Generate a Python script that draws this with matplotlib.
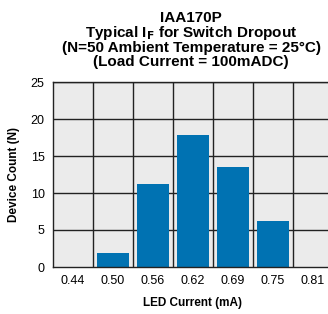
import numpy as np
import matplotlib.pyplot as plt

plt.rcParams['font.family'] = ['Liberation Sans', 'DejaVu Sans']

# データ
categories = ['0.44', '0.50', '0.56', '0.62', '0.69', '0.75', '0.81']
counts = [0, 1.9, 11.2, 17.9, 13.5, 6.2, 0]
y_ticks = [0, 5, 10, 15, 20, 25]

fig = plt.figure(figsize=(3.28, 3.14), dpi=100)
ax = fig.add_axes([53 / 328, 47 / 314, 280 / 328, 185 / 314])
ax.set_facecolor('#ebebeb')

x = np.arange(len(categories))
ax.bar(x, counts, width=0.82, color='#0072b2', zorder=2)

ax.set_xlim(-0.5, len(categories) - 0.5)
ax.set_ylim(0, 25)
ax.set_xticks(x)
ax.set_xticklabels(categories)
ax.set_yticks(y_ticks)

# グリッド（区切り線）
for b in np.arange(0.5, len(categories) - 0.5, 1):
    ax.axvline(b, color='#222222', lw=1, zorder=1)
for t in y_ticks[1:]:
    ax.axhline(t, color='#222222', lw=1, zorder=1)

for s in ax.spines.values():
    s.set_color('#222222')
    s.set_linewidth(1)
ax.tick_params(length=0, labelsize=9, pad=6)

ax.set_xlabel('LED Current (mA)', fontsize=8.5, fontweight='bold', labelpad=7)
ax.set_ylabel('Device Count (N)', fontsize=8.5, fontweight='bold', labelpad=8)

title = ('IAA170P\nTypical I$_\\mathbf{F}$ for Switch Dropout\n'
         '(N=50 Ambient Temperature = 25°C)\n(Load Current = 100mADC)')
fig.text(191 / 328, 1 - 11 / 314, title, ha='center', va='top',
         fontsize=11, fontweight='bold', linespacing=0.93)

plt.savefig('out.png', dpi=100)
